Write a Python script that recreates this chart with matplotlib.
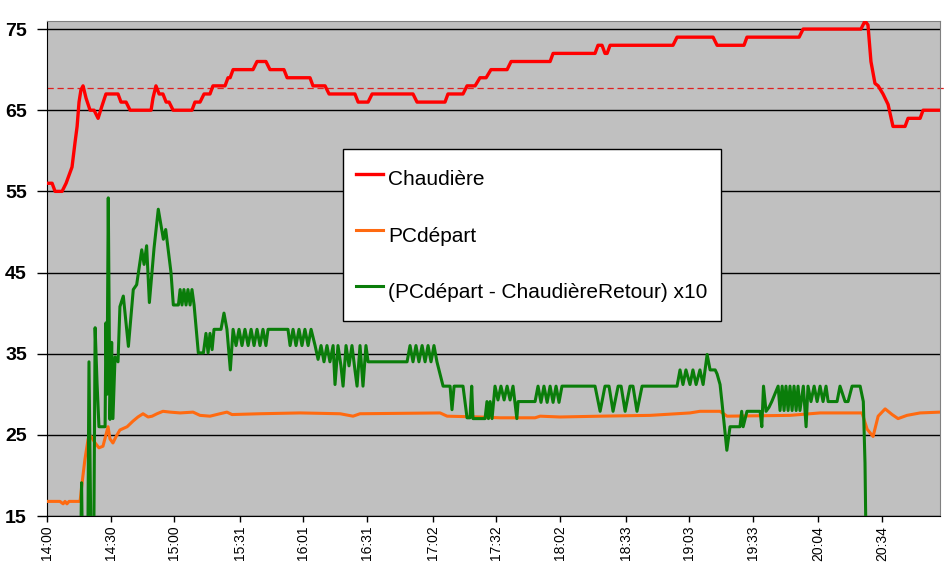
import matplotlib.pyplot as plt

# minutes after 14:00 and temperatures
red_t = [0.0, 2.4, 3.8, 7.1, 9.0, 10.4, 11.8, 13.2, 14.2, 15.1, 16.0, 17.0, 18.4, 20.3, 22.2, 24.1,
         25.9, 27.8, 33.5, 34.9, 37.3, 39.2, 49.1, 50.0, 51.4, 52.9, 54.7, 56.2, 57.6, 59.5, 68.4, 69.8,
         72.2, 74.1, 76.9, 78.3, 84.0, 85.4, 86.4, 87.8, 97.2, 99.1, 103.3, 105.2, 111.8, 113.3, 124.1, 125.5,
         131.2, 133.1, 145.3, 146.8, 151.5, 153.4, 172.7, 174.6, 187.8, 189.2, 196.3, 198.2, 202.0, 204.3,
         207.2, 209.5, 217.1, 219.0, 237.4, 238.8, 258.6, 260.0, 261.9, 263.3, 264.3, 265.7, 295.4, 297.3,
         314.3, 316.2, 328.9, 330.3, 354.9, 356.8, 384.1, 386.0, 387.4, 388.8, 390.7, 392.2, 394.5, 396.9,
         399.2, 404.9, 406.3, 412.0, 413.4, 421.4]
red_v = [56, 56, 55, 55, 56, 57, 58, 61, 63, 66, 67.5, 68, 66.5, 65, 65, 64,
         65.5, 67, 67, 66, 66, 65, 65, 66.5, 68, 67, 67, 66, 66, 65, 65, 66,
         66, 67, 67, 68, 68, 69, 69, 70, 70, 71, 71, 70, 70, 69, 69, 68,
         68, 67, 67, 66, 66, 67, 67, 66, 66, 67, 67, 68, 68, 69,
         69, 70, 70, 71, 71, 72, 72, 73, 73, 72, 72, 73, 73, 74,
         74, 73, 73, 74, 74, 75, 75, 76, 75.5, 71, 68.3, 68, 67, 65.7,
         63, 63, 64, 64, 65, 65]

orange_t = [0, 6.1, 7.6, 8.5, 9.4, 10.4, 15.6, 16.5, 17.9, 19.4, 20.8, 22.7, 24.5, 26.4, 28.8, 29.7,
            31.1, 32.6, 34.4, 37.8, 40.6, 42.9, 45.3, 47.7, 49.6, 51.9, 54.7, 58.1, 62.8, 68.9, 72.2, 76.9,
            81.6, 84.9, 87.3, 100.5, 119.4, 138.3, 144.4, 147.7, 185.5, 188.8, 204.3, 213.8, 230.3, 232.7,
            242.1, 261.0, 284.6, 303.4, 308.1, 317.6, 320.9, 350.6, 364.8, 384.6, 387.0, 389.8, 392.2, 395.5,
            398.8, 401.6, 405.8, 412.0, 421.4]
orange_v = [16.8, 16.8, 16.5, 16.8, 16.5, 16.8, 16.8, 19.0, 22, 24.5, 24.8, 24.0, 23.4, 23.6, 26.0, 24.5,
            24.0, 24.8, 25.6, 26.0, 26.7, 27.2, 27.6, 27.2, 27.3, 27.6, 27.9, 27.8, 27.7, 27.8, 27.4, 27.3,
            27.6, 27.8, 27.5, 27.6, 27.7, 27.6, 27.3, 27.6, 27.7, 27.3, 27.2, 27.1, 27.1, 27.3,
            27.2, 27.3, 27.4, 27.7, 27.9, 27.9, 27.3, 27.4, 27.7, 27.7, 25.7, 24.8, 27.3, 28.2,
            27.5, 27.0, 27.4, 27.7, 27.8]

green_t = [0, 15.6, 16.3, 17.0, 19.1, 19.8, 21.0, 21.9, 22.7, 23.6, 24.5, 27.4, 27.8, 28.3, 28.9, 29.7,
           30.5, 31.1, 32.1, 33.5, 34.4, 36.0, 38.4, 40.7, 42.3, 44.7, 45.8, 47.0, 48.3, 50.5, 52.5, 54.9,
           56.0, 58.5, 59.6, 62.0, 62.8, 63.7, 64.6, 65.6, 66.5, 67.5, 68.4, 69.4, 71.4, 73.8, 75.0, 76.0,
           76.9, 77.9, 78.8, 82.1, 83.5, 84.9, 86.5, 87.8, 89.2, 90.6, 92.0, 93.4, 94.9, 96.3, 97.7, 99.1,
           100.5, 101.9, 103.3, 104.3, 113.7, 114.7, 116.1, 117.5, 118.9, 120.3, 121.7, 123.2, 124.6, 126.5,
           127.9, 129.3, 130.7, 132.1, 133.5, 135.0, 135.9, 137.3, 138.7, 139.7, 141.1, 142.5, 143.9, 145.3,
           146.3, 147.7, 149.1, 150.5, 151.5, 169.9, 171.3, 172.7, 174.1, 175.5, 177.0, 178.4, 179.8, 181.2,
           182.6, 184.0, 186.9, 188.8, 190.2, 191.1, 192.1, 196.3, 198.2, 199.6, 200.4, 201.0, 202.4, 206.7,
           207.6, 208.3, 209.1, 210.0, 211.4, 212.8, 214.2, 215.7, 217.1, 218.5, 219.9, 221.7, 222.3, 230.3,
           231.7, 233.1, 234.5, 236.0, 237.4, 238.8, 240.2, 241.6, 243.0, 258.6, 261.0, 263.3, 265.2, 267.1,
           269.5, 270.9, 272.8, 275.1, 276.5, 278.4, 280.8, 297.3, 298.7, 300.1, 301.5, 303.4, 304.8, 306.3,
           308.1, 309.6, 311.5, 312.9, 315.3, 316.2, 317.6, 318.5, 320.8, 322.3, 327.0, 327.8, 328.5, 330.3,
           336.5, 337.3, 338.1, 339.3, 340.7, 342.0, 345.0, 345.9, 346.9, 347.8, 348.7, 349.7, 350.6, 351.6,
           352.5, 353.5, 354.4, 355.3, 356.9, 358.2, 359.1, 360.5, 362.0, 363.4, 364.8, 366.2, 367.6, 368.6,
           372.8, 374.2, 376.6, 378.0, 379.9, 383.7, 385.2, 386.0, 386.8, 421.4]
green_v = [5, 5, 19.1, 5, 5, 34.0, 5, 5, 38.2, 31.4, 26.0, 26.0, 38.8, 30, 54.2, 26.9,
           36.4, 27.0, 34.6, 34.0, 40.8, 42.1, 35.9, 42.9, 43.5, 47.8, 46, 48.3, 41.3, 48, 52.8, 49.1,
           50.3, 45, 41.0, 41.0, 42.9, 41, 42.9, 41, 42.9, 41, 42.9, 41, 35.1, 35.1, 37.5, 35.1,
           37.5, 35.5, 38.0, 38.0, 40.0, 38, 33.0, 38, 36, 38, 36, 38, 36, 38, 36, 38,
           36, 38, 36, 38, 38, 36, 38, 36, 38, 36, 38, 36, 38, 36,
           34.3, 36, 34, 36, 34, 36, 31.2, 36, 33.5, 31.0, 36, 33.5, 36, 33,
           31.0, 36, 31.0, 36, 34, 34, 36, 34, 36, 34, 36, 34, 36, 34,
           36, 34, 31.0, 31, 31, 28.1, 31, 31, 27.1, 27.1, 31, 27, 27, 27,
           29.1, 27, 29.1, 27, 31, 29.3, 31, 29.3, 31, 29.3, 31, 27, 29.1, 29.1,
           31, 29, 31, 29, 31, 29, 31, 29, 31, 31, 27.9, 31, 31, 27.9,
           31, 31, 27.9, 31, 31, 27.9, 31, 31, 33, 31.2, 33, 31.2, 33, 31.2,
           33, 31.2, 34.9, 33, 33, 32.5, 31.2, 29, 23.1, 26.0, 26.0, 27.9, 26, 27.9,
           27.9, 26.0, 31, 27.9, 28.4, 29.1, 31, 28, 31, 28, 31, 28, 31, 28,
           31, 28, 31, 28, 31, 26, 31, 29.1, 31, 29.1, 31, 29.1, 31, 29.1,
           29.1, 31, 29.1, 29.1, 31, 31, 29.1, 21.5, 5, 5]

ref_level = 67.7

tick_minutes = [0, 30, 60, 91, 121, 151, 182, 212, 242, 273, 303, 333, 364, 394]
tick_labels = ['14:00', '14:30', '15:00', '15:31', '16:01', '16:31', '17:02', '17:32',
               '18:02', '18:33', '19:03', '19:33', '20:04', '20:34']

plt.rcParams['font.family'] = ['Liberation Sans', 'DejaVu Sans']

fig = plt.figure(figsize=(9.5, 5.75), dpi=100)
ax = fig.add_axes([0.0495, 0.1026, 0.94, 0.861])
ax.set_facecolor('#C0C0C0')

# horizontal grid
for y in range(15, 76, 10):
    ax.axhline(y, color='black', lw=1.0, zorder=1)

ax.plot(red_t, red_v, color='#FF0000', lw=2.4, label='Chaudière', zorder=3)
ax.plot(orange_t, orange_v, color='#FF6A10', lw=2.2, label='PCdépart', zorder=3)
ax.plot(green_t, green_v, color='#0A7D0A', lw=2.2, label='(PCdépart - ChaudièreRetour) x10', zorder=4)

# dashed reference line, runs a bit past the plot area
ax.plot([0, 1.007], [ref_level, ref_level], transform=ax.get_yaxis_transform(),
        color='#E02020', lw=0.9, ls=(0, (5, 3)), clip_on=False, zorder=2)

ax.set_xlim(0, 421.4)
ax.set_ylim(15, 76)
ax.set_yticks(range(15, 76, 10))
ax.set_xticks(tick_minutes)
ax.set_xticklabels(tick_labels, rotation=90, fontsize=10)
for lab in ax.get_yticklabels():
    lab.set_fontsize(14)
    lab.set_fontweight('bold')
ax.tick_params(axis='y', direction='out', length=7, width=1, pad=7.5)
ax.tick_params(axis='x', direction='out', length=4, width=1, pad=3)

ax.spines['left'].set_color('black')
ax.spines['bottom'].set_color('black')
ax.spines['top'].set_color('#808080')
ax.spines['right'].set_color('#808080')

leg = ax.legend(loc='upper left', bbox_to_anchor=(0.331, 0.741), fontsize=15,
                frameon=True, fancybox=False, shadow=False, framealpha=1,
                edgecolor='black', facecolor='white', handlelength=1.3,
                handleheight=2.0, handletextpad=0.25, labelspacing=1.15,
                borderpad=0.65, borderaxespad=0)
leg.get_frame().set_linewidth(1.0)
leg.set_zorder(10)

plt.savefig('out.png', dpi=100)
